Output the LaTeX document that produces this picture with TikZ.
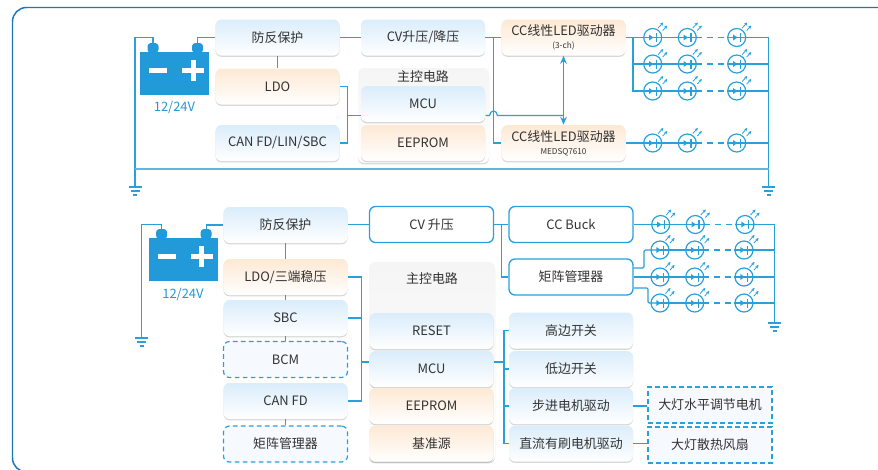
\documentclass[tikz,border=0pt]{standalone}
\usepackage{xcolor}
\usepackage{fontspec}
\setmainfont{Noto Sans CJK SC}
\usetikzlibrary{arrows.meta,shadows}
\definecolor{framecol}{RGB}{27,117,187}
\definecolor{wirecol}{RGB}{41,160,218}
\definecolor{buscol}{RGB}{95,183,225}
\definecolor{battcol}{RGB}{34,153,216}
\definecolor{bluetop}{RGB}{218,237,251}
\definecolor{orangetop}{RGB}{253,233,212}
\definecolor{greytop}{RGB}{245,245,245}
\definecolor{textcol}{RGB}{51,51,51}

\tikzset{
    boxbase/.style={minimum width=93pt, minimum height=27pt, inner sep=0pt,
        rounded corners=4.5pt, align=center, text=textcol, font=\fontsize{9.7}{11}\selectfont},
    softshadow/.style={drop shadow={shadow xshift=0pt, shadow yshift=-1pt, opacity=.35, fill=black!45}},
    bluebox/.style={boxbase, softshadow, top color=bluetop, bottom color=white},
    orangebox/.style={boxbase, softshadow, top color=orangetop, bottom color=white},
    linebox/.style={boxbase, draw=wirecol, line width=1pt, fill=white},
    dashbox/.style={boxbase, draw=wirecol, line width=.9pt, dash pattern=on 3.5pt off 2.5pt,
        fill=bluetop!25},
    squarebox/.style={dashbox, sharp corners},
    groupbox/.style={boxbase, softshadow, top color=greytop, bottom color=white},
    wire/.style={draw=wirecol, line width=.9pt},
    gapwire/.style={wire, dash pattern=on 4.5pt off 3.75pt, dash phase=1pt},
    ledring/.style={circle, draw=wirecol, line width=.9pt, minimum size=13.5pt, inner sep=0pt},
    ledray/.style={wirecol, line width=.6pt, -{Stealth[length=2.4pt,width=2.4pt]}},
}

% led: name, x, y
\newcommand{\ledsym}[3]{
    \node[ledring] (#1) at (#2,#3) {};
    \fill[wirecol] (#2-3.7,#3-3) -- (#2+.8,#3) -- (#2-3.7,#3+3) -- cycle;
    \draw[wirecol, line width=.9pt] (#2+3.6,#3-4.5) -- (#2+3.6,#3+4.5);
    \draw[ledray] (#2+5.5,#3-9.5) -- (#2+10.5,#3-15);
    \draw[ledray] (#2+10,#3-7) -- (#2+14.5,#3-12);
}
% ground: name, x, y
\newcommand{\gndsym}[3]{
    \coordinate (#1) at (#2,#3);
    \draw[wirecol, line width=1pt] (#2-6.5,#3) -- (#2+6.5,#3);
    \draw[wirecol, line width=1pt] (#2-4.5,#3+4) -- (#2+4.5,#3+4);
    \draw[wirecol, line width=1pt] (#2-2,#3+8) -- (#2+2,#3+8);
}
% battery: name, x, y (top left of body)
\newcommand{\battsym}[3]{
    \begin{scope}[shift={(#2,#3)}]
        \node[fill=battcol, minimum width=51.75pt, minimum height=32.25pt, inner sep=0pt] (#1) at (34.5,21.5) {};
        \fill[battcol, rounded corners=2.5pt] (7.5,1) -- (7.5,-9) -- (18.5,-9) -- (18.5,1) -- cycle;
        \fill[battcol, rounded corners=2.5pt] (52,1) -- (52,-9) -- (63,-9) -- (63,1) -- cycle;
        \fill[white] (9,16) rectangle (27,21);
        \fill[white] (42,16) rectangle (64,21);
        \fill[white] (50.5,8) rectangle (55.5,29);
        \coordinate (#1-minus) at (13,-9);
        \coordinate (#1-plus) at (57.5,-9);
    \end{scope}
}

\begin{document}
\begin{tikzpicture}[x=.75pt, y=-.75pt]
    \path[clip] (0,0) rectangle (878,469);
    \draw[framecol, line width=1.1pt, rounded corners=10.5pt]
        (890,472) -- (12.5,472) -- (12.5,7.5) -- (890,7.5);

    % upper circuit
    \node[groupbox, minimum width=98.25pt, minimum height=71.25pt] (groupA) at (423.5,115.5) {};
    \node[boxbase] (groupAtext) at (423,77) {主控电路};
    \node[bluebox] (protA) at (277.5,37.5) {防反保护};
    \node[orangebox] (ldoA) at (277.5,86.5) {LDO};
    \node[bluebox] (canA) at (277.5,143) {CAN FD/LIN/SBC};
    \node[bluebox] (cvA) at (423,37.5) {CV升压/降压};
    \node[bluebox] (mcuA) at (423,104) {MCU};
    \node[orangebox] (eepA) at (423,143) {EEPROM};
    \node[orangebox] (ccA) at (563.5,37.5) {CC线性LED驱动器\\[-1.5pt]{\fontsize{6.2}{7}\selectfont (3-ch)}};
    \node[orangebox] (ccB) at (563.5,143) {CC线性LED驱动器\\[-1.5pt]{\fontsize{6.1}{7}\selectfont MEDSQ7610}};

    \battsym{battA}{140}{52}
    \node[text=battcol, font=\fontsize{9.7}{11}\selectfont] (voltA) at (174.5,108) {12/24V};
    \gndsym{gndL}{135}{187}
    \gndsym{gndR}{768.5}{187}

    \foreach \nm/\yy in {A/37.5,B/64,C/91,D/143}{
        \ledsym{led\nm1}{652.7}{\yy}
        \ledsym{led\nm2}{687.3}{\yy}
        \ledsym{led\nm3}{736.7}{\yy}
        \draw[wire] (led\nm1.center) -- (led\nm2.east);
        \draw[gapwire] (led\nm2.east) -- (led\nm3.west);
        \draw[wire] (led\nm3.west) -- (led\nm3.center) -- (led\nm3.center -| gndR);
    }
    \draw[wire] (battA-plus) |- (protA.west);
    \draw[wire] (battA-minus) |- (135,37.5) -- (gndL);
    \draw[wire] (protA.south) -- (ldoA.north);
    \draw[wire] (cvA.west) -- (protA.east);
    \draw[wire] (cvA.east) -- (ccA.west);
    \coordinate (busA) at (493.7,37.5);
    \draw[wire] (busA) |- (ccB.west);
    \coordinate (joinA) at (347.7,115.5);
    \draw[wire] (ldoA.east) -| (joinA) |- (canA.east);
    \draw[wire] (joinA) -- (mcuA.west |- joinA);
    \coordinate (tapA) at (485.5,115.5);
    \coordinate (tapB) at (563.5,115.5);
    \draw[wire] (tapA) -- (489.5,115.5) .. controls (490.5,109.5) and (496.5,109.5) .. (497.5,115.5) -- (tapB);
    \draw[wire, {Stealth[length=6pt,width=5pt]}-{Stealth[length=6pt,width=5pt]}] (ccA.south) -- (ccB.north);
    \draw[wire] (ccA.east) -- (ledA1.center);
    \coordinate (splitA) at (633,37.5);
    \draw[wire] (splitA) |- (ledB1.center);
    \draw[wire] (splitA) |- (ledC1.center);
    \draw[wire] (ccB.east) -- (ledD1.center);
    \draw[wire] (ledA3.center -| gndR) -- (gndR);
    \draw[buscol, line width=1.6pt] (135,168.7) -- (768.5,168.7);

    % lower circuit
    \node[groupbox, minimum width=94.5pt, minimum height=150pt] (groupB) at (432,362) {};
    \node[boxbase] (groupBtext) at (432,279) {主控电路};
    \node[bluebox] (protB) at (285.5,225) {防反保护};
    \node[orangebox] (ldoB) at (285.5,277) {LDO/三端稳压};
    \node[bluebox] (sbcB) at (285.5,318) {SBC};
    \node[dashbox] (bcmB) at (285.5,359.5) {BCM};
    \node[bluebox] (canB) at (285.5,401) {CAN FD};
    \node[dashbox] (matB) at (285.5,444) {矩阵管理器};
    \node[linebox] (cvB) at (431.5,224.5) {CV 升压};
    \node[bluebox] (resetB) at (431.5,331) {RESET};
    \node[bluebox] (mcuB) at (431.5,369) {MCU};
    \node[orangebox] (eepB) at (431.5,406) {EEPROM};
    \node[orangebox] (refB) at (431.5,443.5) {基准源};
    \node[linebox] (buckB) at (571,224.5) {CC Buck};
    \node[linebox] (matC) at (571,277) {矩阵管理器};
    \node[bluebox] (highB) at (571,330.5) {高边开关};
    \node[bluebox] (lowB) at (571,369) {低边开关};
    \node[bluebox] (stepB) at (571,406) {步进电机驱动};
    \node[bluebox] (dcB) at (571,443.5) {直流有刷电机驱动};
    \node[squarebox] (levelB) at (710,405) {大灯水平调节电机};
    \node[squarebox] (fanB) at (710,445) {大灯散热风扇};

    \battsym{battB}{148.6}{238}
    \node[text=battcol, font=\fontsize{9.7}{11}\selectfont] (voltB) at (183,295) {12/24V};
    \gndsym{gndM}{141.5}{338}
    \gndsym{gndS}{774.7}{323}

    \foreach \nm/\yy/\xa/\xb/\xc in {E/224.5/660.7/695.3/745,F/250/660/694.7/744,G/277/660/694.7/744,H/303/660/694.7/744}{
        \ledsym{led\nm1}{\xa}{\yy}
        \ledsym{led\nm2}{\xb}{\yy}
        \ledsym{led\nm3}{\xc}{\yy}
        \draw[wire] (led\nm1.center) -- (led\nm2.east);
        \draw[gapwire] (led\nm2.east) -- (led\nm3.west);
        \draw[wire] (led\nm3.west) -- (led\nm3.center) -- (led\nm3.center -| gndS);
    }
    \draw[wire] (battB-plus) |- (protB.west);
    \draw[wire] (battB-minus) |- (141.5,224.5) -- (gndM);
    \draw[wire] (protB.south) -- (ldoB.north);
    \draw[wire] (ldoB.south) -- (sbcB.north);
    \draw[wire] (sbcB.south) -- (bcmB.north);
    \draw[wire] (canB.south) -- (matB.north);
    \draw[wire] (protB.east |- cvB.west) -- (cvB.west);
    \draw[wire] (cvB.east) -- (buckB.west);
    \coordinate (busB) at (501.7,224.5);
    \draw[wire] (busB) |- (matC.west);
    \coordinate (joinB) at (361.7,362);
    \draw[wire] (ldoB.east) -| (joinB) |- (canB.east);
    \draw[wire] (sbcB.east) -- (sbcB.east -| joinB);
    \draw[wire] (joinB) -- (mcuB.west |- joinB);
    \draw[wire] (buckB.east) -- (ledE1.center);
    \draw[wire, rounded corners=1pt] (matC.east |- 0,268) -- (644,268) |- (ledF1.center);
    \draw[wire] (matC.east) -- (ledG1.center);
    \draw[wire, rounded corners=1pt] (matC.east |- 0,288) -- (648,288) |- (ledH1.center);
    \draw[wire] (ledE3.center -| gndS) -- (gndS);
    \coordinate (tapC) at (504,362);
    \draw[wire] (mcuB.east |- tapC) -- (tapC);
    \draw[wire] (highB.west) -| (tapC) |- (dcB.west);
    \draw[wire] (tapC |- lowB.west) -- (lowB.west);
    \draw[wire] (tapC |- stepB.west) -- (stepB.west);
    \draw[wire] (stepB.east) -- (stepB.east -| levelB.west);
    \draw[wire] (dcB.east) -- (dcB.east -| fanB.west);
\end{tikzpicture}
\end{document}
